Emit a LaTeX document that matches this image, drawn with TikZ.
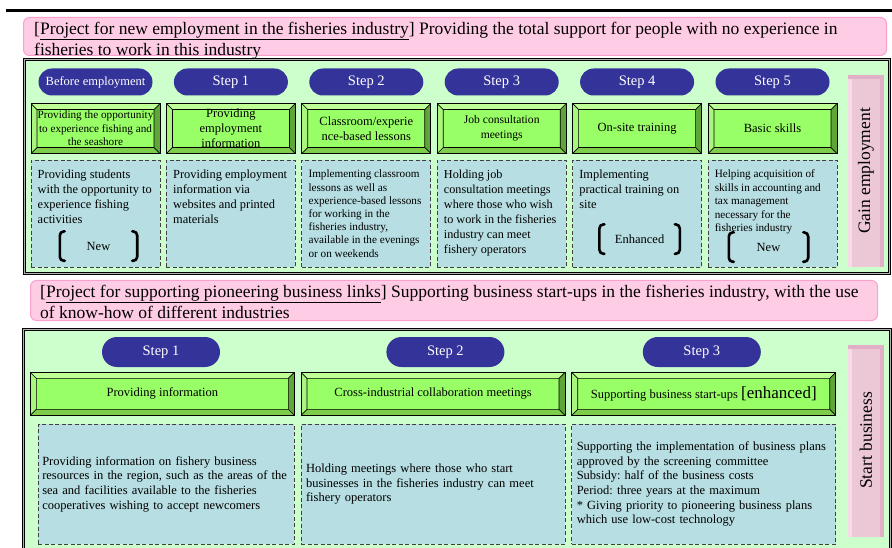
\documentclass[tikz,border=0pt]{standalone}
\usepackage{fontspec}
\setmainfont{Liberation Serif}
\usepackage{graphicx}
\usetikzlibrary{
    positioning,
    shapes.misc,
}
\frenchspacing

\definecolor{bandfill}{RGB}{255,204,230}
\definecolor{bandedge}{RGB}{250,160,205}
\definecolor{panelfill}{RGB}{204,255,204}
\definecolor{stepblue}{RGB}{51,51,153}
\definecolor{bevelface}{RGB}{153,255,102}
\definecolor{bevellit}{RGB}{190,255,150}
\definecolor{bevelside}{RGB}{170,245,125}
\definecolor{beveldark}{RGB}{95,165,55}
\definecolor{bevellow}{RGB}{125,205,75}
\definecolor{infofill}{RGB}{183,222,226}
\definecolor{goalfill}{RGB}{236,200,214}
\definecolor{goallit}{RGB}{246,220,231}
\definecolor{goaldark}{RGB}{226,176,198}

\begin{document}
\begin{tikzpicture}[
        x=1pt, y=-1pt,
        band/.style={
            rectangle, rounded corners=6pt, draw=bandedge, line width=1pt,
            fill=bandfill, anchor=north west
        },
        bandtext/.style={
            anchor=north west, inner sep=0pt, align=left,
            font=\fontsize{17.5pt}{21pt}\selectfont
        },
        panel/.style={
            rectangle, draw=black, line width=0.8pt, double=black!30,
            double distance=1.4pt, fill=panelfill, anchor=north west
        },
        steplabel/.style={
            rounded rectangle, fill=stepblue, text=white, inner sep=0pt,
            minimum width=114pt, minimum height=27pt,
            font=\fontsize{14.5pt}{17pt}\selectfont
        },
        widestep/.style={
            steplabel, minimum width=118pt, minimum height=30pt
        },
        bevel/.style={
            rectangle, draw=black, line width=0.7pt, fill=bevelface,
            minimum width=129pt, minimum height=50pt, inner sep=0pt,
            align=center, font=\fontsize{12.5pt}{15pt}\selectfont,
            path picture={
                \coordinate (o1) at (path picture bounding box.north west);
                \coordinate (o2) at (path picture bounding box.north east);
                \coordinate (o3) at (path picture bounding box.south east);
                \coordinate (o4) at (path picture bounding box.south west);
                \coordinate (i1) at ([shift={(6,6)}]o1);
                \coordinate (i2) at ([shift={(-6,6)}]o2);
                \coordinate (i3) at ([shift={(-6,-6)}]o3);
                \coordinate (i4) at ([shift={(6,-6)}]o4);
                \fill[bevellit] (o1) -- (o2) -- (i2) -- (i1) -- cycle;
                \fill[bevelside] (o1) -- (i1) -- (i4) -- (o4) -- cycle;
                \fill[beveldark] (o2) -- (o3) -- (i3) -- (i2) -- cycle;
                \fill[bevellow] (o4) -- (i4) -- (i3) -- (o3) -- cycle;
                \draw[line width=0.7pt] (i1) rectangle (i3)
                    (o1) -- (i1) (o2) -- (i2) (o3) -- (i3) (o4) -- (i4);
            }
        },
        widebevel/.style={
            bevel, minimum width=264pt, minimum height=43pt
        },
        infobox/.style={
            rectangle, draw=black!75, line width=0.9pt,
            dash pattern=on 4pt off 2.5pt, fill=infofill,
            minimum width=129pt, minimum height=107pt, inner sep=0pt
        },
        infotext/.style={
            anchor=north west, inner sep=0pt, align=left,
            font=\fontsize{12.4pt}{15pt}\selectfont
        },
        wideinfo/.style={
            infobox, minimum width=264pt, minimum height=120pt,
            text width=254pt, inner xsep=5pt, align=left,
            font=\fontsize{12.5pt}{14.7pt}\selectfont
        },
        tag/.style={
            minimum width=77pt, minimum height=29pt, inner sep=0pt,
            font=\fontsize{12.5pt}{15pt}\selectfont
        },
        bracket/.style={line width=2.6pt, rounded corners=4pt, line cap=round},
        goal/.style={
            rectangle, fill=goalfill, minimum width=36pt, minimum height=192pt,
            inner sep=0pt, font=\fontsize{17.5pt}{21pt}\selectfont,
            path picture={
                \fill[goallit] (path picture bounding box.north west)
                    rectangle ([shift={(4,0)}]path picture bounding box.south west);
                \fill[goaldark] ([shift={(-4,0)}]path picture bounding box.north east)
                    rectangle (path picture bounding box.south east);
                \fill[goaldark] (path picture bounding box.north west)
                    rectangle ([shift={(0,4)}]path picture bounding box.north east);
            }
        },
    ]

    \useasboundingbox (0,0) rectangle (892,548);

    % ── Top rule ──
    \draw[line width=3pt] (6,11) -- (892,11);

    % ── Project 1: new employment ──
    \node[band, minimum width=863pt, minimum height=38pt] (band1) at (23,17) {};
    \node[bandtext] (head1) at ([shift={(11,5)}]band1.north west)
        {[\underline{Project for new employment in the fisheries industry}] Providing the total support for people with no experience in\\fisheries to work in this industry};

    \node[panel, minimum width=865pt, minimum height=214pt] (panel1) at (24,59) {};

    % ── Steps ──
    \node[steplabel, font=\fontsize{12.5pt}{15pt}\selectfont] (pre) at (95.5,82) {Before employment};
    \node[steplabel, right=21pt of pre] (step1) {Step 1};
    \node[steplabel, right=21pt of step1] (step2) {Step 2};
    \node[steplabel, right=21pt of step2] (step3) {Step 3};
    \node[steplabel, right=21pt of step3] (step4) {Step 4};
    \node[steplabel, right=21pt of step4] (step5) {Step 5};

    % ── Measures ──
    \node[bevel, below=7.5pt of pre, font=\fontsize{11.2pt}{13.5pt}\selectfont]
        (trial) {Providing the opportunity\\to experience fishing and\\the seashore};
    \node[bevel, below=7.5pt of step1]
        (jobinfo) {Providing\\employment\\information};
    \node[bevel, below=7.5pt of step2, font=\fontsize{12.5pt}{15.3pt}\selectfont]
        (lessons) {Classroom/experie\\nce-based lessons};
    \node[bevel, below=7.5pt of step3, font=\fontsize{11.6pt}{15pt}\selectfont]
        (consult) {Job consultation\\meetings};
    \node[bevel, below=7.5pt of step4]
        (onsite) {On-site training};
    \node[bevel, below=7.5pt of step5]
        (skills) {Basic skills};

    % ── Descriptions ──
    \node[infobox, below=6pt of trial] (trialinfo) {};
    \node[infobox, below=6pt of jobinfo] (jobinfoinfo) {};
    \node[infobox, below=6pt of lessons] (lessonsinfo) {};
    \node[infobox, below=6pt of consult] (consultinfo) {};
    \node[infobox, below=6pt of onsite] (onsiteinfo) {};
    \node[infobox, below=6pt of skills] (skillsinfo) {};

    \node[infotext] (trialtext) at ([shift={(7,10)}]trialinfo.north west)
        {Providing students\\with the opportunity to\\experience fishing\\activities};
    \node[infotext] (jobinfotext) at ([shift={(7,10)}]jobinfoinfo.north west)
        {Providing employment\\information via\\websites and printed\\materials};
    \node[infotext, font=\fontsize{11.2pt}{13.2pt}\selectfont] (lessonstext) at ([shift={(7,10)}]lessonsinfo.north west)
        {Implementing classroom\\lessons as well as\\experience-based lessons\\for working in the\\fisheries industry,\\available in the evenings\\or on weekends};
    \node[infotext, font=\fontsize{12.2pt}{15pt}\selectfont] (consulttext) at ([shift={(7,10)}]consultinfo.north west)
        {Holding job\\consultation meetings\\where those who wish\\to work in the fisheries\\industry can meet\\fishery operators};
    \node[infotext] (onsitetext) at ([shift={(7,10)}]onsiteinfo.north west)
        {Implementing\\practical training on\\site};
    \node[infotext, font=\fontsize{11.2pt}{13.5pt}\selectfont] (skillstext) at ([shift={(7,10)}]skillsinfo.north west)
        {Helping acquisition of\\skills in accounting and\\tax management\\necessary for the\\fisheries industry};

    % ── Tags ──
    \node[tag, above=7pt of trialinfo.south, xshift=3pt] (trialtag) {New};
    \node[tag, above=14pt of onsiteinfo.south, xshift=2.5pt, minimum width=80pt] (onsitetag) {Enhanced};
    \node[tag, above=6pt of skillsinfo.south, xshift=-4pt, minimum width=79pt] (skillstag) {New};

    \draw[bracket] ([xshift=5pt]trialtag.north west) -- (trialtag.north west) -- (trialtag.south west) -- ([xshift=5pt]trialtag.south west);
    \draw[bracket] ([xshift=-5pt]trialtag.north east) -- (trialtag.north east) -- (trialtag.south east) -- ([xshift=-5pt]trialtag.south east);
    \draw[bracket] ([xshift=5pt]onsitetag.north west) -- (onsitetag.north west) -- (onsitetag.south west) -- ([xshift=5pt]onsitetag.south west);
    \draw[bracket] ([xshift=-5pt]onsitetag.north east) -- (onsitetag.north east) -- (onsitetag.south east) -- ([xshift=-5pt]onsitetag.south east);
    \draw[bracket] ([xshift=5pt]skillstag.north west) -- (skillstag.north west) -- (skillstag.south west) -- ([xshift=5pt]skillstag.south west);
    \draw[bracket] ([xshift=-5pt]skillstag.north east) -- (skillstag.north east) -- (skillstag.south east) -- ([xshift=-5pt]skillstag.south east);

    % ── Goal ──
    \node[goal] (gain) at (866,171) {\rotatebox{90}{Gain employment}};

    % ── Project 2: pioneering business links ──
    \node[band, minimum width=847pt, minimum height=40pt] (band2) at (30,280) {};
    \node[bandtext] (head2) at ([shift={(10,5)}]band2.north west)
        {[\underline{Project for supporting pioneering business links}] Supporting business start-ups in the fisheries industry, with the use\\of know-how of different industries};

    \node[panel, minimum width=867pt, minimum height=240pt] (panel2) at (23,329) {};

    % ── Steps ──
    \node[widestep] (bstep1) at (161,352) {Step 1};
    \node[widestep, right=166pt of bstep1] (bstep2) {Step 2};
    \node[widestep, right=138pt of bstep2] (bstep3) {Step 3};

    % ── Measures ──
    \node[widebevel, anchor=north west] (provide) at (30,372) {Providing information};
    \node[widebevel, right=6pt of provide] (collab) {Cross-industrial collaboration meetings};
    \node[widebevel, right=6pt of collab]
        (startup) {Supporting business start-ups {\fontsize{17pt}{20pt}\selectfont [enhanced]}};

    % ── Descriptions ──
    \node[wideinfo, minimum width=256pt, text width=248pt, inner xsep=4pt, below=8pt of provide.south east, anchor=north east]
        (provideinfo) {Providing information on fishery business\\resources in the region, such as the areas of the\\sea and facilities available to the fisheries\\cooperatives wishing to accept newcomers};
    \node[wideinfo, below=8pt of collab]
        (collabinfo) {Holding meetings where those who start\\businesses in the fisheries industry can meet\\fishery operators};
    \node[wideinfo, below=8pt of startup]
        (startupinfo) {Supporting the implementation of business plans\\approved by the screening committee\\Subsidy: half of the business costs\\Period: three years at the maximum\\{*} Giving priority to pioneering business plans\\which use low-cost technology};

    % ── Goal ──
    \node[goal] (startbiz) at (866,440.5) {\rotatebox{90}{Start business}};

\end{tikzpicture}
\end{document}
